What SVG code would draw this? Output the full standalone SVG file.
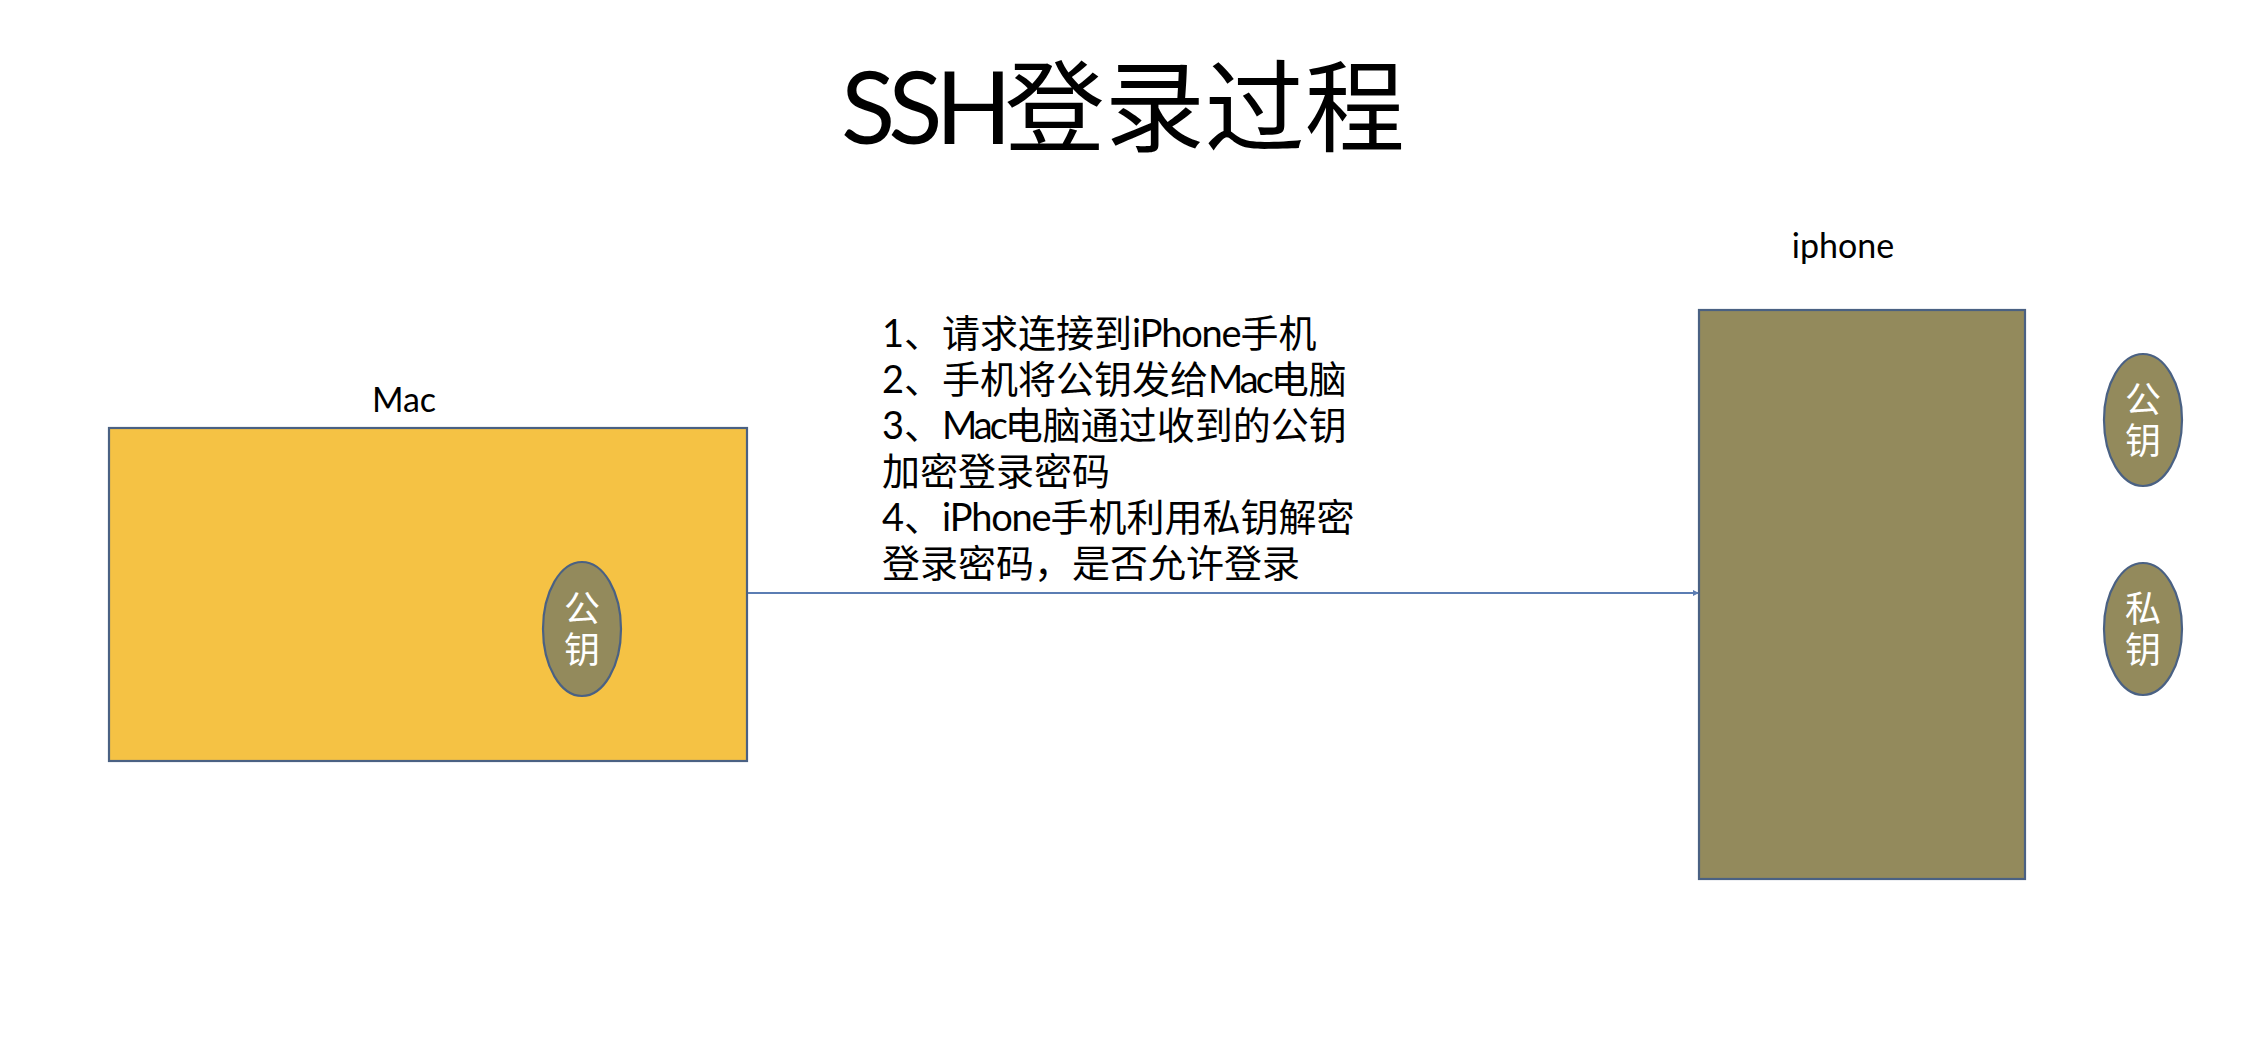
<svg xmlns="http://www.w3.org/2000/svg" width="2252" height="1048" viewBox="0 0 2252 1048">
<style>
  .lat { font-family: Lato, "Noto Sans CJK SC", sans-serif; fill: #000; }
  .box { stroke: #4A6183; stroke-width: 2.2; }
  .key { fill: #938A5C; stroke: #4A6183; stroke-width: 2.2; }
  .keytxt { font-family: "Noto Sans CJK SC", sans-serif; font-size: 36px; fill: #FFFFFF; text-anchor: middle; writing-mode: vertical-rl; letter-spacing: 5px; }
  .conn { stroke: #5B7DB3; stroke-width: 2; fill: none; }
  .ip { letter-spacing: -1.2px; }
  .mc { letter-spacing: -3px; }
</style>
<defs>
  <marker id="arr" markerWidth="6" markerHeight="6" refX="5" refY="3" orient="auto" markerUnits="userSpaceOnUse">
    <path d="M0,0 L6,3 L0,6 Z" fill="#5B7DB3"/>
  </marker>
</defs>
<rect width="2252" height="1048" fill="#FFFFFF"/>
<text id="title" class="lat" x="841" y="144" font-size="100"><tspan style="letter-spacing:-7px">SSH</tspan>登录过程</text>

<g id="mac">
  <text class="lat" x="404" y="412" font-size="34" text-anchor="middle">Mac</text>
  <rect class="box" x="109" y="428" width="638" height="333" fill="#F5C244"/>
</g>
<g id="mac-pubkey">
  <ellipse class="key" cx="582" cy="629" rx="39" ry="67"/>
  <text class="keytxt" x="582" y="631">公钥</text>
</g>

<g id="iphone">
  <text class="lat" x="1843" y="258" font-size="34" text-anchor="middle">iphone</text>
  <rect class="box" x="1699" y="310" width="326" height="569" fill="#938A5C"/>
</g>
<g id="iphone-pubkey">
  <ellipse class="key" cx="2143" cy="420" rx="39" ry="66"/>
  <text class="keytxt" x="2143" y="422">公钥</text>
</g>
<g id="iphone-privkey">
  <ellipse class="key" cx="2143" cy="629" rx="39" ry="66"/>
  <text class="keytxt" x="2143" y="631">私钥</text>
</g>

<g id="connectors">
  <line class="conn" x1="748" y1="593" x2="1698" y2="593" marker-end="url(#arr)"/>
</g>

<g id="steps">
  <text class="lat" font-size="38" x="882" y="347">1、请求连接到<tspan class="ip">iPhone</tspan>手机</text>
  <text class="lat" font-size="38" x="882" y="393">2、手机将公钥发给<tspan class="mc">Mac</tspan>电脑</text>
  <text class="lat" font-size="38" x="882" y="439">3、<tspan class="mc">Mac</tspan>电脑通过收到的公钥</text>
  <text class="lat" font-size="38" x="882" y="485">加密登录密码</text>
  <text class="lat" font-size="38" x="882" y="531">4、<tspan class="ip">iPhone</tspan>手机利用私钥解密</text>
  <text class="lat" font-size="38" x="882" y="577">登录密码，是否允许登录</text>
</g>
</svg>
